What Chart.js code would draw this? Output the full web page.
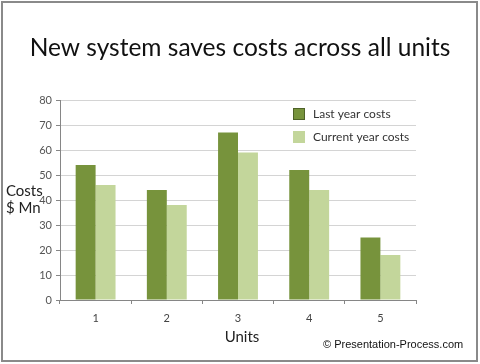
<!DOCTYPE html>
<html lang="en">
<head>
    <meta charset="UTF-8">
    <title>Costs chart</title>
    <script src="https://cdn.jsdelivr.net/npm/chart.js"></script>
    <style>
        body { margin: 0; background: #fff; }
        #wrap { width: 480px; height: 364px; }
    </style>
</head>
<body>
    <div id="wrap"><canvas id="myChart" width="480" height="364"></canvas></div>
    <script>
        // data
        const units = ['1', '2', '3', '4', '5'];
        const lastYear = [54, 44, 67, 52, 25];
        const currentYear = [46, 38, 59, 44, 18];
        const seriesNames = ['Last year costs', 'Current year costs'];
        const yTicks = [0, 10, 20, 30, 40, 50, 60, 70, 80];

        const titleText = 'New system saves costs across all units';
        const font = 'Lato, "Open Sans", sans-serif';

        // frame, title, axis titles, legend, copyright
        const decor = {
            id: 'decor',
            afterDraw(chart) {
                const c = chart.ctx;
                c.save();
                c.strokeStyle = '#8a8a8a';
                c.lineWidth = 2;
                c.strokeRect(2, 2, 475, 359);

                c.fillStyle = '#111';
                c.textAlign = 'center';
                c.textBaseline = 'middle';
                c.font = '24.5px ' + font;
                c.fillText(titleText, 240, 48);

                c.fillStyle = '#222';
                c.textAlign = 'left';
                c.font = '15px ' + font;
                c.fillText('Costs', 6, 191);
                c.fillText('$ Mn', 6, 208);

                c.textAlign = 'center';
                c.fillText('Units', 242, 337);

                // legend inside the plot
                const ds = chart.data.datasets;
                c.font = '12px ' + font;
                c.textAlign = 'left';
                ds.forEach((d, i) => {
                    const y = 108 + i * 23;
                    c.fillStyle = d.backgroundColor;
                    c.fillRect(293, y, 12, 12);
                    if (i === 0) {
                        c.strokeStyle = '#4f6228';
                        c.lineWidth = 1;
                        c.strokeRect(293.5, y + 0.5, 11, 11);
                    }
                    c.fillStyle = '#333';
                    c.fillText(d.label, 313, y + 6);
                });

                c.font = '11px "Liberation Sans", Arial, sans-serif';
                c.fillStyle = '#111';
                c.textAlign = 'left';
                c.fillText('\u00a9 Presentation-Process.com', 323, 345);
                c.restore();
            }
        };

        const ctx = document.getElementById('myChart');
        const myChart = new Chart(ctx, {
            type: 'bar',
            data: {
                labels: units,
                datasets: [{
                    label: seriesNames[0],
                    data: lastYear,
                    backgroundColor: '#77933c'
                }, {
                    label: seriesNames[1],
                    data: currentYear,
                    backgroundColor: '#c3d69b'
                }]
            },
            options: {
                responsive: false,
                animation: false,
                events: [],
                layout: { padding: { top: 100, left: 30, right: 64, bottom: 24 } },
                categoryPercentage: 0.56,
                barPercentage: 1,
                plugins: {
                    legend: { display: false },
                    title: { display: false },
                    tooltip: { enabled: false }
                },
                scales: {
                    x: {
                        grid: { drawOnChartArea: false, tickLength: 4, color: '#868686', offset: true },
                        border: { color: '#868686' },
                        ticks: { color: '#444', font: { size: 11, family: font }, padding: 8 },
                        afterFit(s) { s.height = 40; }
                    },
                    y: {
                        min: 0,
                        max: 80,
                        afterBuildTicks(s) { s.ticks = yTicks.map(v => ({ value: v })); },
                        grid: { color: '#d4d4d4', tickLength: 4, tickColor: '#868686' },
                        border: { color: '#868686' },
                        ticks: { color: '#555', font: { size: 11, family: font }, padding: 4 },
                        afterFit(s) { s.width = 30; }
                    }
                }
            },
            plugins: [decor]
        });
    </script>
</body>
</html>
